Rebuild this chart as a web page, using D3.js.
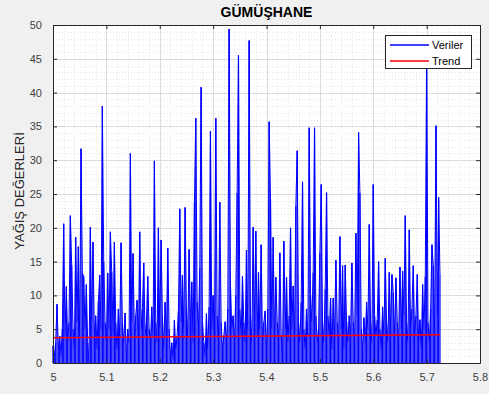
<!DOCTYPE html>
<html><head><meta charset="utf-8">
<script src="https://cdn.jsdelivr.net/npm/d3@7"></script>
<style>
html,body{margin:0;padding:0;background:#f0f0f0;}
svg{display:block;font-family:"Liberation Sans",Arial,Helvetica,sans-serif;}
</style></head>
<body>
<svg id="chart" width="489" height="394"></svg>
<script>
const title = "GÜMÜŞHANE";
const yLabel = "YAĞIŞ DEĞERLERİ";
const legendLabels = ["Veriler", "Trend"];
const xTicks = [5, 5.1, 5.2, 5.3, 5.4, 5.5, 5.6, 5.7, 5.8];
const yTicks = [0, 5, 10, 15, 20, 25, 30, 35, 40, 45, 50];
const xStart = 5.0;
const xStep = 0.0025;
const rain = [
2.5,1,3,8.7,2,4,1,5,20.6,4,
11.3,3,6,21.8,14.5,5,2,18.6,6,17.2,
4,31.7,13.3,12.8,5,11.6,3,0,20.1,6,
17.9,4,7,2,9.1,13,5,38,15,6,
3,13.3,5,19.4,13.5,4,17.9,6,2,8,
4,17.8,6,3,7.4,1,5,3,31,6,
16.2,4,7,9.3,3,19.4,5,8,14.8,4,
6,12.8,5,3,8.3,4,29.9,6,3,20,
5,18.2,7,2,9,4,17,5,1,3,
0.5,6.3,2,4,7.7,22.8,6,13,5,23,
8,4,16.8,6,12,3,23.8,36.2,9,5,
14,40.8,6,3,1,7.3,2,8.3,34.3,5,
10,4,36.2,7,3,23.8,6,2,4,6.1,
3,8,49.4,11.3,5,7,3,10,25.2,45.5,
8,4,12.8,6,3,16.7,5,47.7,7,3,
20.1,6,19.5,4,13.4,5,17.5,3,6,7.7,
2,8,35.7,24.3,5,18.6,4,12.7,6,3,
16.3,4,1.2,18,5,12.7,3,7,20,5,
11.4,4,23.2,31.4,6,3,9,26.8,5,2,
8,4,34.8,10,6,13.4,34.8,7,3,5,
16.3,26.4,6,3,10.9,25.2,7,4,9.6,2,
9.6,4,15.2,6,3,18.7,5,14.4,2,14.5,
6.1,3,7,4,14.8,6,3,19.2,7,34.1,
25.2,5,2,6.7,3,9,5,20.5,6,3,
26.4,7,4,6.4,15,5,2,8.3,4,15.5,
6,3,13.4,5,13.1,10.4,4,12.6,6,3,
14.2,5,13.6,7,21.8,6,3,19.7,5,8,
14.4,4,7,13.1,3,6.4,2,11.6,5,12.8,
46,6,3,8,17.5,14.4,5,35.1,7,24.5,13
];
const trendX = [5.0, 5.725];
const trendY = [3.75, 4.18];

const svg = d3.select("#chart");
const m = {l:53, r:480, t:25, b:363};
const x = d3.scaleLinear().domain([5, 5.8]).range([m.l, m.r]);
const y = d3.scaleLinear().domain([0, 50]).range([m.b, m.t]);

svg.append("rect").attr("x", m.l).attr("y", m.t).attr("width", m.r-m.l).attr("height", m.b-m.t).attr("fill", "#fff");

// minor grid
const gx = svg.append("g");
const xMinor = d3.range(5, 5.8001, 0.02).filter(v => Math.abs(Math.round(v*10)-v*10) > 1e-6);
const yMinor = d3.range(0, 50.001, 1).filter(v => v % 5 !== 0);
gx.selectAll(".mx").data(xMinor).join("line")
  .attr("x1", d=>Math.round(x(d))+0.5).attr("x2", d=>Math.round(x(d))+0.5).attr("y1", m.t).attr("y2", m.b)
  .attr("stroke", "#e6e6e6").attr("stroke-dasharray", "1,2");
gx.selectAll(".my").data(yMinor).join("line")
  .attr("y1", d=>Math.round(y(d))+0.5).attr("y2", d=>Math.round(y(d))+0.5).attr("x1", m.l).attr("x2", m.r)
  .attr("stroke", "#e6e6e6").attr("stroke-dasharray", "1,2");
// major grid
gx.selectAll(".gx").data(xTicks).join("line")
  .attr("x1", d=>Math.round(x(d))+0.5).attr("x2", d=>Math.round(x(d))+0.5).attr("y1", m.t).attr("y2", m.b)
  .attr("stroke", "#dcdcdc");
gx.selectAll(".gy").data(yTicks).join("line")
  .attr("y1", d=>Math.round(y(d))+0.5).attr("y2", d=>Math.round(y(d))+0.5).attr("x1", m.l).attr("x2", m.r)
  .attr("stroke", "#dcdcdc");

// data: daily values drawn as stems plus the connecting line
const xi = i => x(xStart + i*xStep);
const stems = svg.append("g");
stems.selectAll("line").data(rain).join("line")
  .attr("x1",(d,i)=>xi(i)).attr("x2",(d,i)=>xi(i))
  .attr("y1", y(0)).attr("y2", d=>y(d))
  .attr("stroke","#0000ff").attr("stroke-width",1.2);
const line = d3.line().x((d,i)=>xi(i)).y(d=>y(d));
svg.append("path").datum(rain).attr("d", line).attr("fill","none")
  .attr("stroke","#0000ff").attr("stroke-width",1).attr("stroke-linejoin","miter");

// trend
const tl = d3.line().x(d=>x(d[0])).y(d=>y(d[1]));
svg.append("path").datum(trendX.map((v,i)=>[v,trendY[i]])).attr("d", tl)
  .attr("fill","none").attr("stroke","#ff0000").attr("stroke-width",1.5);

// axes
const axColor = "#262626";
const xAxisB = svg.append("g").attr("transform",`translate(0,${m.b})`)
  .call(d3.axisBottom(x).tickValues(xTicks).tickSizeInner(-4).tickSizeOuter(0).tickPadding(10).tickFormat(d3.format("")));
const xAxisT = svg.append("g").attr("transform",`translate(0,${m.t})`)
  .call(d3.axisTop(x).tickValues(xTicks).tickSizeInner(-4).tickSizeOuter(0).tickFormat(""));
const yAxisL = svg.append("g").attr("transform",`translate(${m.l},0)`)
  .call(d3.axisLeft(y).tickValues(yTicks).tickSizeInner(-4).tickSizeOuter(0).tickPadding(11));
const yAxisR = svg.append("g").attr("transform",`translate(${m.r},0)`)
  .call(d3.axisRight(y).tickValues(yTicks).tickSizeInner(-4).tickSizeOuter(0).tickFormat(""));
[xAxisB,xAxisT,yAxisL,yAxisR].forEach(g=>{
  g.selectAll("path").attr("stroke",axColor);
  g.selectAll("line").attr("stroke",axColor);
  g.selectAll("text").attr("fill","#404040").style("font-size","11px").style("font-family","'Liberation Sans',Arial,sans-serif");
});

// title
svg.append("text").attr("x",(m.l+m.r)/2).attr("y",17).attr("text-anchor","middle")
  .style("font-size","14px").style("font-weight","bold").attr("fill","#000").text(title);
// y label
svg.append("text").attr("transform",`translate(24,191) rotate(-90)`).attr("text-anchor","middle")
  .style("font-size","13px").attr("fill","#262626").text(yLabel);

// legend
const lg = svg.append("g");
lg.append("rect").attr("x",385.5).attr("y",35.5).attr("width",86).attr("height",33)
  .attr("fill","#fff").attr("stroke",axColor);
const lcol = ["#0000ff","#ff0000"];
legendLabels.forEach((t,i)=>{
  const yy = 45 + i*16;
  lg.append("line").attr("x1",390).attr("x2",429).attr("y1",yy).attr("y2",yy).attr("stroke",lcol[i]).attr("stroke-width",1.5);
  lg.append("text").attr("x",432).attr("y",yy+4).style("font-size","11px").attr("fill","#000").text(t);
});
</script>
</body></html>
